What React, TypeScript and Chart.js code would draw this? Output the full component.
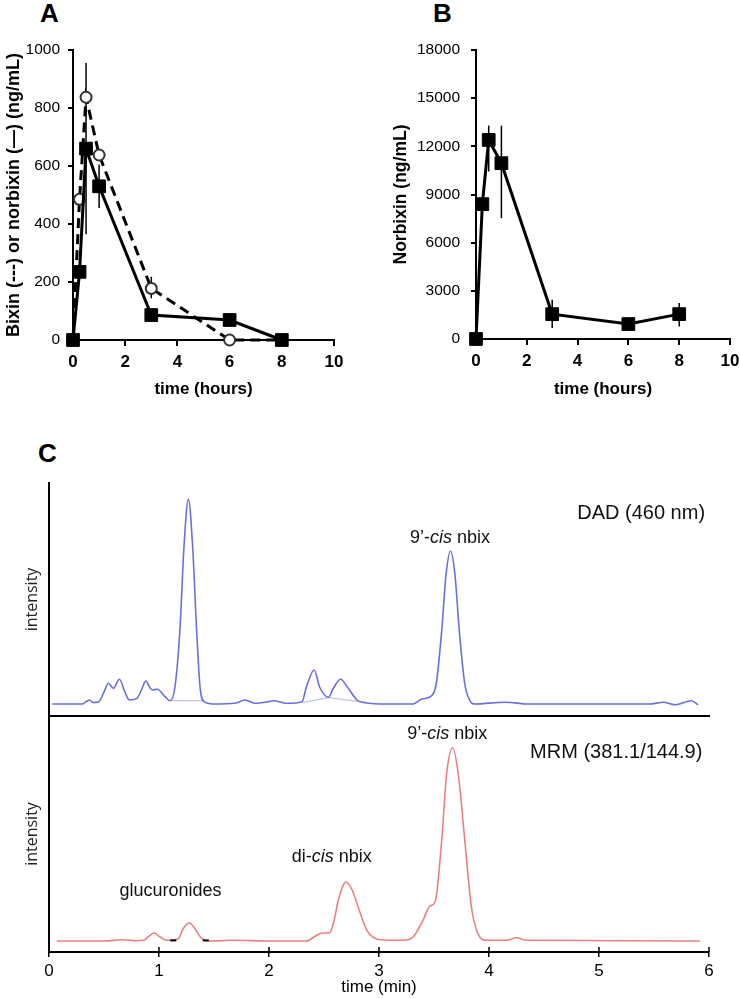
import React, { useEffect, useRef } from 'react';
import { Chart, registerables } from 'chart.js';
Chart.register(...registerables);

const FONT = "'Liberation Sans', Arial, Helvetica, sans-serif";

// ---------- Panel A: bixin / norbixin (ng/mL) ----------
const hoursA = [0, 0.25, 0.5, 1, 3, 6, 8];
const norbixinA = [0, 235, 660, 530, 86, 69, 0];
const norbixinAErrPlus = [0, 0, 295, 75, 0, 0, 0];
const norbixinAErrMinus = [0, 0, 295, 75, 0, 0, 0];
const bixinA = [0, 485, 837, 638, 178, 0, 0];
const bixinAErrPlus = [0, 0, 0, 0, 40, 0, 0];
const bixinAErrMinus = [0, 0, 0, 0, 34, 0, 0];
const hourTicks = [0, 2, 4, 6, 8, 10];
const concTicksA = [0, 200, 400, 600, 800, 1000];

// ---------- Panel B: norbixin (ng/mL) ----------
const hoursB = [0, 0.25, 0.5, 1, 3, 6, 8];
const norbixinB = [0, 8400, 12400, 10950, 1550, 930, 1550];
const norbixinBErrPlus = [0, 0, 890, 2340, 890, 0, 690];
const norbixinBErrMinus = [0, 0, 1970, 3420, 870, 0, 770];
const concTicksB = [0, 3000, 6000, 9000, 12000, 15000, 18000];

// ---------- Panel C: chromatograms ----------
const minuteTicks = [0, 1, 2, 3, 4, 5, 6];
const dadTime = [0.03, 0.3, 0.34, 0.37, 0.4, 0.45, 0.5, 0.54, 0.585, 0.64, 0.69, 0.73, 0.8, 0.84, 0.88, 0.92, 0.94, 0.985, 1.055, 1.1, 1.145, 1.19, 1.227, 1.267, 1.306, 1.342, 1.373, 1.41, 1.49, 1.7, 1.78, 1.88, 1.98, 2.04, 2.16, 2.3, 2.34, 2.41, 2.46, 2.54, 2.585, 2.65, 2.72, 2.8, 2.87, 3.07, 3.31, 3.39, 3.48, 3.52, 3.57, 3.61, 3.65, 3.69, 3.73, 3.78, 3.83, 3.87, 4.15, 4.35, 5.46, 5.585, 5.69, 5.84, 5.9];
const dadIntensity = [0, 0, 2.5, 4, 1.5, 2, 12, 20.7, 15.7, 24.7, 12, 4, 5.7, 14, 23, 16, 14, 14.7, 7.3, 3.3, 17, 74, 157, 205, 157, 74, 17, 2.3, 0, 1, 4, 0.7, 2, 3.3, 0.7, 2.3, 17, 34, 17, 6.7, 15.7, 24.7, 15.7, 4, 1.3, 0, 0, 5, 8.3, 20, 73, 130, 152.7, 130, 73, 20, 2.7, 0, 1.7, 0, 0, 1.7, -0.7, 3.3, -0.7];
const dadBase1Time = [1.1, 1.41];
const dadBase1Intensity = [3.3, 3.3];
const dadBase2Time = [2.3, 2.54, 2.88];
const dadBase2Intensity = [1.3, 6.3, 1.7];

const mrmTime = [0.07, 0.5, 0.67, 0.8, 0.86, 0.9, 0.955, 1.01, 1.07, 1.175, 1.22, 1.275, 1.327, 1.39, 1.45, 1.68, 2.0, 2.34, 2.42, 2.48, 2.55, 2.585, 2.63, 2.7, 2.76, 2.81, 2.89, 2.95, 3.01, 3.22, 3.31, 3.4, 3.46, 3.51, 3.57, 3.615, 3.67, 3.72, 3.78, 3.84, 3.9, 3.98, 4.16, 4.25, 4.34, 5.92];
const mrmIntensity = [0, 0, 1.3, 0.3, 0.7, 4, 8, 4, 0.7, 2.3, 12.3, 18.3, 12.3, 2.3, 0, 0.7, 0, 0, 4.7, 8, 8, 17.3, 40.7, 59, 50, 34, 10.7, 3.5, 1.3, 0.7, 4, 20.7, 34.7, 39, 100.7, 167.3, 193.3, 167.3, 100.7, 34, 7.3, 0.7, 0.7, 3.3, 0.7, 0];
const mrmMarkerTime = [1.13, 1.425];
const mrmMarkerIntensity = [0.6, 0.6];

const pts = (xs: number[], ys: number[]) => xs.map((x, i) => ({ x, y: ys[i] }));
const setTicks = (arr: number[]) => (scale: any) => {
  scale.ticks = arr.map((v) => ({ value: v }));
};
const plainLabel = (v: any) => `${v}`;

const errorBarPlugin = {
  id: 'errorBars',
  beforeDatasetsDraw(chart: any) {
    const ctx = chart.ctx;
    chart.data.datasets.forEach((ds: any, di: number) => {
      if (!ds.errPlus) return;
      const meta = chart.getDatasetMeta(di);
      const ys = chart.scales[meta.yAxisID];
      ctx.save();
      ctx.strokeStyle = '#000';
      ctx.lineWidth = 1.5;
      meta.data.forEach((pt: any, i: number) => {
        const v = ds.data[i].y;
        const p = ds.errPlus[i] || 0;
        const m = ds.errMinus[i] || 0;
        if (!p && !m) return;
        ctx.beginPath();
        ctx.moveTo(pt.x, ys.getPixelForValue(v + p));
        ctx.lineTo(pt.x, ys.getPixelForValue(v - m));
        ctx.stroke();
      });
      ctx.restore();
    });
  },
};

// draws the inner half of the x-axis tick marks so they cross the axis line
const innerTickPlugin = {
  id: 'innerTicks',
  afterDraw(chart: any) {
    const xs = chart.scales.x;
    const ctx = chart.ctx;
    ctx.save();
    ctx.strokeStyle = '#000';
    ctx.lineWidth = 1.5;
    xs.ticks.forEach((t: any) => {
      const px = xs.getPixelForValue(t.value);
      ctx.beginPath();
      ctx.moveTo(px, xs.top);
      ctx.lineTo(px, xs.top - 5);
      ctx.stroke();
    });
    ctx.restore();
  },
};

type Seg = { text: string; italic?: boolean };
type Lbl = { x: number; y: number; size: number; align: 'left' | 'center' | 'right'; segs: Seg[] };
const makeLabelPlugin = (items: Lbl[]) => ({
  id: 'chromLabels',
  afterDatasetsDraw(chart: any) {
    const { ctx } = chart;
    const xs = chart.scales.x;
    const ys = chart.scales.y;
    ctx.save();
    ctx.fillStyle = '#111';
    ctx.textBaseline = 'middle';
    ctx.textAlign = 'left';
    items.forEach((it) => {
      const fonts = it.segs.map((s) => `${s.italic ? 'italic ' : ''}${it.size}px ${FONT}`);
      const widths = it.segs.map((s, i) => {
        ctx.font = fonts[i];
        return ctx.measureText(s.text).width;
      });
      const total = widths.reduce((a, b) => a + b, 0);
      let px = xs.getPixelForValue(it.x);
      if (it.align === 'center') px -= total / 2;
      else if (it.align === 'right') px -= total;
      const py = ys.getPixelForValue(it.y);
      it.segs.forEach((s, i) => {
        ctx.font = fonts[i];
        ctx.fillText(s.text, px, py);
        px += widths[i];
      });
    });
    ctx.restore();
  },
});

const axisBorder = { display: true, color: '#000', width: 2 };

function configA(): any {
  return {
    type: 'line',
    data: {
      datasets: [
        {
          label: 'norbixin',
          data: pts(hoursA, norbixinA),
          errPlus: norbixinAErrPlus,
          errMinus: norbixinAErrMinus,
          borderColor: '#000',
          borderWidth: 3,
          pointStyle: 'rect',
          pointRadius: 9,
          pointBackgroundColor: '#000',
          pointBorderColor: '#000',
          pointBorderWidth: 1,
          clip: false,
        },
        {
          label: 'bixin',
          data: pts(hoursA, bixinA),
          errPlus: bixinAErrPlus,
          errMinus: bixinAErrMinus,
          borderColor: '#000',
          borderWidth: 3,
          borderDash: [10, 6],
          pointStyle: 'circle',
          pointRadius: 5.5,
          pointBackgroundColor: '#fff',
          pointBorderColor: '#333',
          pointBorderWidth: 2,
          clip: false,
        },
      ],
    },
    options: {
      animation: false,
      responsive: false,
      layout: { padding: { left: 0, top: 50, right: 36, bottom: 0 } },
      plugins: { legend: { display: false }, tooltip: { enabled: false } },
      scales: {
        x: {
          type: 'linear',
          min: 0,
          max: 10,
          afterBuildTicks: setTicks(hourTicks),
          afterFit: (s: any) => {
            s.height = 60;
            s.paddingRight = 0;
            s.paddingLeft = 0;
          },
          border: axisBorder,
          grid: { display: true, drawOnChartArea: false, drawTicks: true, tickLength: 6, color: '#000', lineWidth: 2 },
          ticks: { color: '#000', font: { family: FONT, size: 17, weight: 'bold' }, padding: 6, maxRotation: 0, callback: plainLabel },
          title: {
            display: true,
            text: 'time (hours)',
            color: '#000',
            font: { family: FONT, size: 17, weight: 'bold' },
            padding: { top: 0, bottom: 0 },
          },
        },
        y: {
          type: 'linear',
          min: 0,
          max: 1000,
          afterBuildTicks: setTicks(concTicksA),
          afterFit: (s: any) => {
            s.width = 73;
          },
          border: axisBorder,
          grid: { display: true, drawOnChartArea: false, drawTicks: true, tickLength: 5, color: '#000', lineWidth: 2 },
          ticks: { color: '#000', font: { family: FONT, size: 15.5 }, padding: 8, callback: plainLabel },
          title: {
            display: true,
            text: 'Bixin (---) or norbixin (\u2014) (ng/mL)',
            color: '#000',
            font: { family: FONT, size: 18, weight: 'bold' },
            padding: { top: 3, bottom: 0 },
          },
        },
      },
    },
    plugins: [errorBarPlugin],
  };
}

function configB(): any {
  return {
    type: 'line',
    data: {
      datasets: [
        {
          label: 'norbixin',
          data: pts(hoursB, norbixinB),
          errPlus: norbixinBErrPlus,
          errMinus: norbixinBErrMinus,
          borderColor: '#000',
          borderWidth: 3,
          pointStyle: 'rect',
          pointRadius: 9,
          pointBackgroundColor: '#000',
          pointBorderColor: '#000',
          pointBorderWidth: 1,
          clip: false,
        },
      ],
    },
    options: {
      animation: false,
      responsive: false,
      layout: { padding: { left: 0, top: 50, right: 10, bottom: 0 } },
      plugins: { legend: { display: false }, tooltip: { enabled: false } },
      scales: {
        x: {
          type: 'linear',
          min: 0,
          max: 10,
          afterBuildTicks: setTicks(hourTicks),
          afterFit: (s: any) => {
            s.height = 61;
            s.paddingRight = 0;
            s.paddingLeft = 0;
          },
          border: axisBorder,
          grid: { display: true, drawOnChartArea: false, drawTicks: true, tickLength: 6, color: '#000', lineWidth: 2 },
          ticks: { color: '#000', font: { family: FONT, size: 17, weight: 'bold' }, padding: 6, maxRotation: 0, callback: plainLabel },
          title: {
            display: true,
            text: 'time (hours)',
            color: '#000',
            font: { family: FONT, size: 17, weight: 'bold' },
            padding: { top: 0, bottom: 0 },
          },
        },
        y: {
          type: 'linear',
          min: 0,
          max: 18000,
          afterBuildTicks: setTicks(concTicksB),
          afterFit: (s: any) => {
            s.width = 106;
          },
          border: axisBorder,
          grid: { display: true, drawOnChartArea: false, drawTicks: true, tickLength: 5, color: '#000', lineWidth: 2 },
          ticks: { color: '#000', font: { family: FONT, size: 15.5 }, padding: 11, callback: plainLabel },
          title: {
            display: true,
            text: 'Norbixin (ng/mL)',
            color: '#000',
            font: { family: FONT, size: 17.5, weight: 'bold' },
            padding: { top: 21, bottom: 0 },
          },
        },
      },
    },
    plugins: [errorBarPlugin],
  };
}

const intensityTitle = (pad: number) => ({
  display: true,
  text: 'intensity',
  color: '#222',
  font: { family: "'Open Sans', 'Noto Sans', sans-serif", size: 16 },
  padding: { top: pad, bottom: 0 },
});

function configDAD(): any {
  return {
    type: 'line',
    data: {
      datasets: [
        {
          data: pts(dadTime, dadIntensity),
          borderColor: 'rgb(105,112,222)',
          borderWidth: 1.6,
          pointRadius: 0,
          cubicInterpolationMode: 'monotone',
        },
        {
          data: pts(dadBase1Time, dadBase1Intensity),
          borderColor: 'rgba(150,156,232,0.6)',
          borderWidth: 1.2,
          pointRadius: 0,
        },
        {
          data: pts(dadBase2Time, dadBase2Intensity),
          borderColor: 'rgba(150,156,232,0.6)',
          borderWidth: 1.2,
          pointRadius: 0,
        },
      ],
    },
    options: {
      animation: false,
      responsive: false,
      layout: { padding: { left: 0, top: 53, right: 31, bottom: 0 } },
      plugins: { legend: { display: false }, tooltip: { enabled: false } },
      scales: {
        x: {
          type: 'linear',
          min: 0,
          max: 6,
          afterFit: (s: any) => {
            s.height = 4;
          },
          border: axisBorder,
          grid: { display: false },
          ticks: { display: false },
        },
        y: {
          type: 'linear',
          min: -12,
          max: 221,
          afterFit: (s: any) => {
            s.width = 49;
          },
          border: axisBorder,
          grid: { display: false },
          ticks: { display: false },
          title: intensityTitle(23),
        },
      },
    },
    plugins: [
      makeLabelPlugin([
        { x: 5.964, y: 191, size: 20, align: 'right', segs: [{ text: 'DAD (460 nm)' }] },
        { x: 3.645, y: 166, size: 18, align: 'center', segs: [{ text: '9\u2019-' }, { text: 'cis', italic: true }, { text: ' nbix' }] },
      ]),
    ],
  };
}

function configMRM(): any {
  return {
    type: 'line',
    data: {
      datasets: [
        {
          data: pts(mrmMarkerTime, mrmMarkerIntensity),
          showLine: false,
          pointStyle: 'line',
          pointRadius: 3,
          pointBorderWidth: 2,
          pointBorderColor: '#000',
          borderColor: '#000',
        },
        {
          data: pts(mrmTime, mrmIntensity),
          borderColor: 'rgb(236,128,128)',
          borderWidth: 1.6,
          pointRadius: 0,
          cubicInterpolationMode: 'monotone',
        },
      ],
    },
    options: {
      animation: false,
      responsive: false,
      layout: { padding: { left: 0, top: 16, right: 31, bottom: 0 } },
      plugins: { legend: { display: false }, tooltip: { enabled: false } },
      scales: {
        x: {
          type: 'linear',
          min: 0,
          max: 6,
          afterBuildTicks: setTicks(minuteTicks),
          afterFit: (s: any) => {
            s.height = 46;
            s.paddingRight = 0;
            s.paddingLeft = 0;
          },
          border: axisBorder,
          grid: { display: true, drawOnChartArea: false, drawTicks: true, tickLength: 5, color: '#000', lineWidth: 1.5 },
          ticks: { color: '#000', font: { family: FONT, size: 17 }, padding: 4, maxRotation: 0, callback: plainLabel },
          title: {
            display: true,
            text: 'time (min)',
            color: '#000',
            font: { family: FONT, size: 17 },
            padding: { top: 0, bottom: 0 },
          },
        },
        y: {
          type: 'linear',
          min: -11,
          max: 225,
          afterFit: (s: any) => {
            s.width = 49;
          },
          border: axisBorder,
          grid: { display: false },
          ticks: { display: false },
          title: intensityTitle(23),
        },
      },
    },
    plugins: [
      innerTickPlugin,
      makeLabelPlugin([
        { x: 5.94, y: 189, size: 20, align: 'right', segs: [{ text: 'MRM (381.1/144.9)' }] },
        { x: 3.62, y: 207, size: 18, align: 'center', segs: [{ text: '9\u2019-' }, { text: 'cis', italic: true }, { text: ' nbix' }] },
        { x: 2.57, y: 84, size: 18, align: 'center', segs: [{ text: 'di-' }, { text: 'cis', italic: true }, { text: ' nbix' }] },
        { x: 1.105, y: 50, size: 18, align: 'center', segs: [{ text: 'glucuronides' }] },
      ]),
    ],
  };
}

function ChartCanvas({ make, left, top, width, height }: { make: () => any; left: number; top: number; width: number; height: number }) {
  const ref = useRef<HTMLCanvasElement | null>(null);
  useEffect(() => {
    if (!ref.current) return;
    const chart = new Chart(ref.current, make());
    return () => chart.destroy();
  }, []);
  return (
    <canvas
      ref={ref}
      width={width}
      height={height}
      style={{ position: 'absolute', left, top, width, height, display: 'block' }}
    />
  );
}

const letterStyle = (left: number, top: number): React.CSSProperties => ({
  position: 'absolute',
  left,
  top,
  fontFamily: FONT,
  fontWeight: 'bold',
  fontSize: 26,
  lineHeight: '26px',
  color: '#000',
});

export default function App() {
  return (
    <div style={{ position: 'absolute', left: 0, top: 0, width: 740, height: 998, background: '#fff', overflow: 'hidden' }}>
      <div style={letterStyle(40, 0)}>A</div>
      <div style={letterStyle(433, 0)}>B</div>
      <div style={letterStyle(38, 440)}>C</div>
      <ChartCanvas make={configA} left={0} top={0} width={370} height={400} />
      <ChartCanvas make={configB} left={370} top={0} width={370} height={400} />
      <ChartCanvas make={configDAD} left={0} top={430} width={740} height={290} />
      <ChartCanvas make={configMRM} left={0} top={700} width={740} height={298} />
    </div>
  );
}
